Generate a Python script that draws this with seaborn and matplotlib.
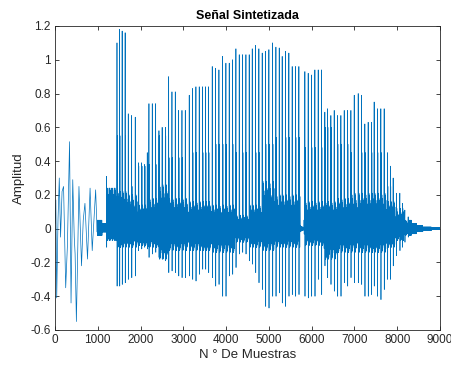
import numpy as np
import pandas as pd
import matplotlib
matplotlib.use("Agg")
import matplotlib.pyplot as plt
import seaborn as sns

# ---- data ----
early_x = [0, 20, 40, 70, 100, 130, 165, 200, 250, 290, 340, 375, 415, 450, 470, 500,
           560, 620, 660, 700, 760, 820, 870, 950, 985]
early_y = [0.03, 0.17, -0.41, 0.05, 0.30, -0.05, 0.22, 0.25, -0.35, -0.10, 0.515, -0.44,
           0.29, -0.05, -0.15, -0.55, 0.25, -0.22, 0.05, 0.15, -0.18, 0.24, -0.13, 0.23, -0.02]

pulse_x = [1205, 1265, 1325, 1385, 1449, 1510, 1570, 1640, 1713, 1792, 1876, 1950, 2025,
           2095, 2157, 2196, 2274, 2353, 2430, 2505, 2580, 2657, 2734, 2812, 2890, 2968,
           3046, 3138, 3216, 3294, 3372, 3450, 3520, 3590, 3676, 3754, 3832, 3917, 3995,
           4073, 4151, 4229, 4307, 4385, 4463, 4540, 4611, 4689, 4766, 4844, 4922, 5000,
           5086, 5164, 5242, 5311, 5389, 5467, 5545, 5623, 5701, 5841, 5919, 5997, 6075,
           6153, 6231, 6308, 6371, 6449, 6527, 6605, 6683, 6761, 6839, 6917, 6995, 7088,
           7166, 7243, 7321, 7399, 7461, 7539, 7617, 7695, 7773, 7840, 7905, 7983, 8061,
           8123, 8178, 8256]
pulse_peak = [0.31, 0.24, 0.24, 0.24, 1.10, 1.18, 1.17, 1.16, 0.68, 0.67, 0.66, 0.39, 0.39,
              0.38, 0.45, 0.74, 0.74, 0.74, 0.58, 0.60, 0.60, 0.90, 0.81, 0.81, 0.70, 0.70,
              0.70, 0.79, 0.83, 0.84, 0.84, 0.84, 0.84, 0.84, 0.96, 0.95, 0.94, 1.02, 0.98,
              0.98, 1.00, 1.065, 1.03, 1.03, 1.03, 1.03, 1.065, 1.085, 1.065, 1.04, 1.05, 1.06,
              1.10, 1.075, 1.07, 1.02, 1.05, 1.04, 0.96, 0.96, 0.96, 0.93, 0.92, 0.91, 0.94,
              0.94, 0.94, 0.69, 0.71, 0.67, 0.70, 0.67, 0.67, 0.70, 0.70, 0.70, 0.79, 0.80,
              0.79, 0.62, 0.63, 0.63, 0.75, 0.71, 0.71, 0.71, 0.45, 0.37, 0.30, 0.21, 0.21,
              0.15, 0.11, 0.07]
pulse_trough = [-0.11, -0.07, -0.06, -0.06, -0.34, -0.34, -0.33, -0.32, -0.30, -0.29, -0.28,
                -0.13, -0.12, -0.11, -0.12, -0.17, -0.15, -0.14, -0.17, -0.18, -0.19, -0.26,
                -0.25, -0.26, -0.28, -0.29, -0.29, -0.28, -0.30, -0.31, -0.27, -0.24, -0.24,
                -0.26, -0.29, -0.34, -0.33, -0.40, -0.40, -0.28, -0.27, -0.23, -0.15, -0.14,
                -0.15, -0.19, -0.21, -0.26, -0.32, -0.36, -0.46, -0.47, -0.40, -0.40, -0.38,
                -0.44, -0.46, -0.40, -0.39, -0.40, -0.39, -0.40, -0.41, -0.40, -0.40, -0.30,
                -0.39, -0.22, -0.29, -0.33, -0.37, -0.40, -0.40, -0.32, -0.34, -0.29, -0.32,
                -0.32, -0.33, -0.40, -0.40, -0.39, -0.34, -0.40, -0.42, -0.36, -0.30, -0.30,
                -0.22, -0.16, -0.13, -0.11, -0.08, -0.05]

# dense band between pulses: segment start, upper, lower, secondary peak
seg_start = [985, 1100, 1200, 1440, 1700, 1920, 2180, 2420, 2640, 3100, 3650, 4200, 4550,
             4850, 5120, 5730, 5820, 6290, 6600, 6900, 7740, 7950, 8150, 8330, 8450, 8600, 8800]
seg_hi = [0.05, 0.03, 0.24, 0.22, 0.20, 0.14, 0.18, 0.26, 0.18, 0.16, 0.14, 0.08, 0.14, 0.28,
          0.20, 0.02, 0.16, 0.16, 0.18, 0.21, 0.16, 0.10, 0.05, 0.03, 0.018, 0.01, 0.006]
seg_lo = [-0.04, -0.02, -0.07, -0.11, -0.11, -0.10, -0.11, -0.18, -0.13, -0.13, -0.14,
          -0.08, -0.11, -0.13, -0.11, -0.02, -0.10, -0.18, -0.14, -0.14, -0.11, -0.07,
          -0.04, -0.03, -0.018, -0.01, -0.006]
seg_sub = [0.05, 0.03, 0.24, 0.55, 0.25, 0.37, 0.38, 0.55, 0.42, 0.45, 0.50, 0.45, 0.45,
           0.50, 0.54, 0.02, 0.48, 0.60, 0.50, 0.45, 0.25, 0.12, 0.05, 0.03, 0.018, 0.01, 0.006]

# relative amplitude of the ringing that follows each pulse
ring_w = [1.0, 0.95, 0.85, 0.8, 0.7, 0.65, 0.6, 0.55, 0.5, 0.45, 0.42, 0.38, 0.35, 0.32,
          0.3, 0.28, 0.26, 0.25, 0.24, 0.23]

x_ticks = [0, 1000, 2000, 3000, 4000, 5000, 6000, 7000, 8000, 9000]
x_labels = ["0", "1000", "2000", "3000", "4000", "5000", "6000", "7000", "8000", "9000"]
y_ticks = [-0.6, -0.4, -0.2, 0.0, 0.2, 0.4, 0.6, 0.8, 1.0, 1.2]
y_labels = ["-0.6", "-0.4", "-0.2", "0", "0.2", "0.4", "0.6", "0.8", "1", "1.2"]

# ---- assemble polyline vertices ----
seg_arr = np.array(seg_start)


def band(x):
    i = max(int(np.searchsorted(seg_arr, x, side="right")) - 1, 0)
    return seg_hi[i], seg_lo[i], seg_sub[i]


xs, ys = list(early_x), list(early_y)


def fill(a, b, decay=True):
    x, up, k = a, True, 0
    while x < b:
        hi, lo, _ = band(x)
        w = ring_w[min(k // 2, len(ring_w) - 1)] if decay else 1.0
        xs.append(x)
        ys.append((hi if up else lo) * w)
        up = not up
        k += 1
        x += 4


fill(early_x[-1] + 5, pulse_x[0] - 2, decay=False)
for i, p in enumerate(pulse_x):
    hi, lo, sub = band(p)
    xs += [p, p + 3, p + 8, p + 13]
    ys += [pulse_peak[i], pulse_trough[i], sub, lo]
    last = i + 1 == len(pulse_x)
    end = 9000 if last else pulse_x[i + 1] - 2
    fill(p + 17, end, decay=not last)

df = pd.DataFrame({"n": xs, "amp": ys})

# ---- plot ----
sns.set_theme(style="white")
plt.rcParams["font.family"] = ["Liberation Sans", "DejaVu Sans"]

fig = plt.figure(figsize=(4.52, 3.69), dpi=100)
ax = fig.add_axes([55 / 452, 1 - 330 / 369, 385 / 452, 304 / 369])
sns.lineplot(data=df, x="n", y="amp", ax=ax, sort=False, estimator=None,
             color="#0072BD", linewidth=0.5)

ax.set_xlim(0, 9000)
ax.set_ylim(-0.6, 1.2)
ax.set_xticks(x_ticks)
ax.set_xticklabels(x_labels)
ax.set_yticks(y_ticks)
ax.set_yticklabels(y_labels)
ax.tick_params(direction="in", length=3, width=0.6, colors="#262626", labelsize=8.5,
               top=True, right=True, bottom=True, left=True, pad=3)
for s in ax.spines.values():
    s.set_color("#262626")
    s.set_linewidth(0.6)
    s.set_visible(True)
ax.set_xlabel("N ° De Muestras", fontsize=9.5, color="#262626", labelpad=2)
ax.set_ylabel("Amplitud", fontsize=9.5, color="#262626", labelpad=4)
ax.set_title("Señal Sintetizada", fontsize=9, fontweight="bold", color="black", pad=5)
ax.grid(False)

fig.savefig("out.png", dpi=100, facecolor="white")
